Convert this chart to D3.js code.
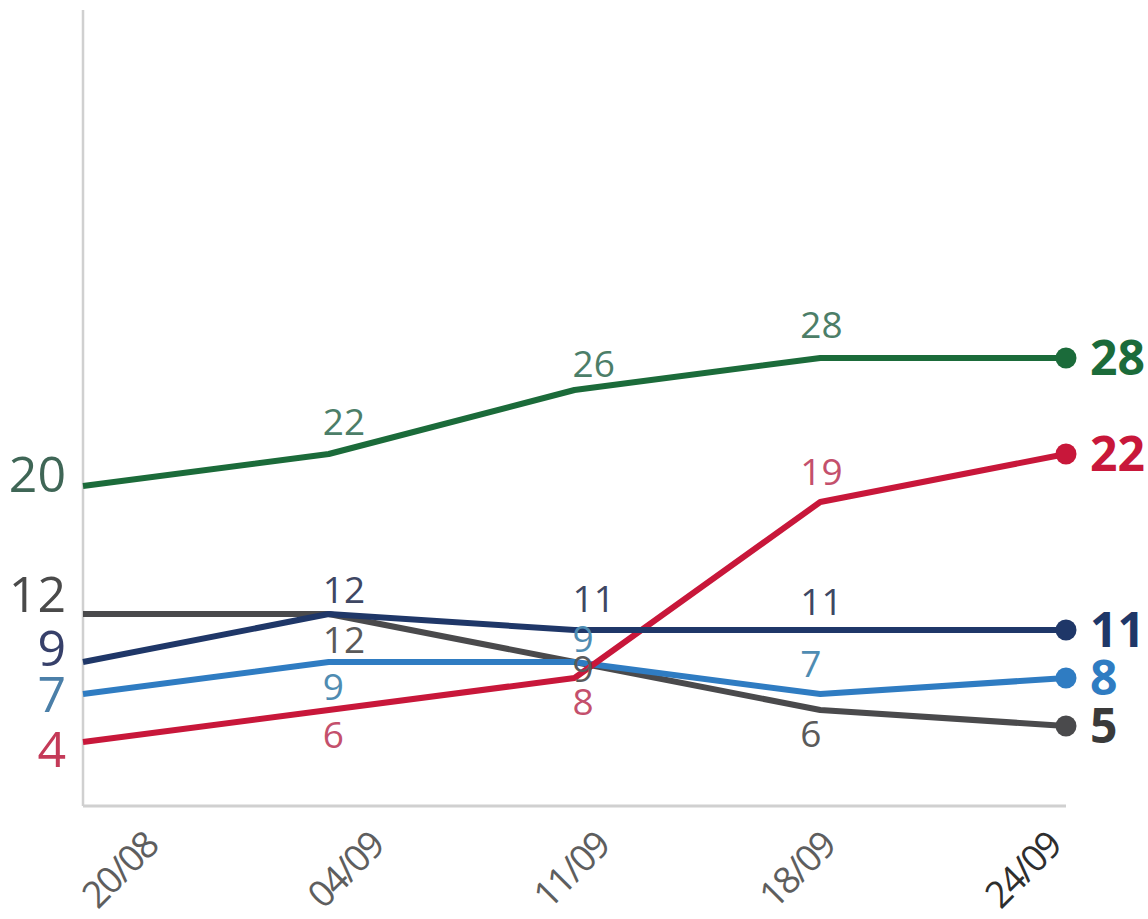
<!DOCTYPE html>
<html>
<head>
<meta charset="utf-8">
<script src="https://cdn.jsdelivr.net/npm/d3@7"></script>
<style>
  html, body { margin: 0; padding: 0; background: #fff; }
  svg { display: block; font-family: "Open Sans", "Noto Sans", sans-serif; }
</style>
</head>
<body>
<svg id="chart" width="1148" height="919"></svg>
<script>
// Poll dates (x categories)
const dates = ["20/08", "04/09", "11/09", "18/09", "24/09"];

// Series values, one array per line
const greenValues = [20, 22, 26, 28, 28];
const redValues   = [4, 6, 8, 19, 22];
const navyValues  = [9, 12, 11, 11, 11];
const blueValues  = [7, 9, 9, 7, 8];
const greyValues  = [12, 12, 9, 6, 5];

// Y axis domain
const yDomain = [0, 50];

// Styling per series
const seriesStyle = {
  green: { line: "#1b6b3a", mid: "#4c7e68", start: "#3f6656" },
  red:   { line: "#c8173a", mid: "#c4506c", start: "#c43a58" },
  navy:  { line: "#1f3768", mid: "#3e4763", start: "#37406a" },
  blue:  { line: "#2f7cc2", mid: "#4f8cb2", start: "#4b7fa8" },
  grey:  { line: "#4a4a4c", mid: "#5a5a5a", start: "#4a4a4a" }
};

const series = [
  { key: "green", values: greenValues },
  { key: "grey",  values: greyValues },
  { key: "blue",  values: blueValues },
  { key: "red",   values: redValues },
  { key: "navy",  values: navyValues }
];

// Label layout: vertical offsets for the value labels at the inner dates
const midLabelDy = {
  green: [-19, -13, -20],
  red:   [38, 37, -17],
  navy:  [-11, -18, -15],
  blue:  [38, -10, -17],
  grey:  [39, 20, 37]
};
const midLabelDx = [0, -6, -2, -20, 0];
// Vertical nudges for the first-date labels so they don't collide
const startLabelDy = { green: 6, grey: -2, navy: 4, blue: 18, red: 25 };

const svg = d3.select("#chart");

const x = d3.scalePoint().domain(dates).range([83, 1066]);
const y = d3.scaleLinear().domain(yDomain).range([806, 6]);
// Rotated date labels sit on their own evenly spaced band
const xLabel = d3.scalePoint().domain(dates).range([160, 1063]);

// Axes lines
svg.append("line")
  .attr("x1", x(dates[0])).attr("x2", x(dates[0]))
  .attr("y1", y(yDomain[1]) + 4).attr("y2", y(0))
  .attr("stroke", "#d0d0d0").attr("stroke-width", 2.5);
svg.append("line")
  .attr("x1", x(dates[0])).attr("x2", x(dates[dates.length - 1]))
  .attr("y1", y(0)).attr("y2", y(0))
  .attr("stroke", "#d0d0d0").attr("stroke-width", 3);

// Date labels
svg.append("g").selectAll("text")
  .data(dates)
  .join("text")
  .attr("transform", d => `translate(${xLabel(d)},848) rotate(-45)`)
  .attr("text-anchor", "end")
  .attr("font-size", 37)
  .attr("letter-spacing", -2)
  .attr("fill", (d, i) => i === dates.length - 1 ? "#2e2e2e" : "#5e5e5e")
  .text(d => d);

const line = d3.line()
  .x((d, i) => x(dates[i]))
  .y(d => y(d));

// Lines
svg.append("g").selectAll("path")
  .data(series)
  .join("path")
  .attr("d", s => line(s.values))
  .attr("fill", "none")
  .attr("stroke", s => seriesStyle[s.key].line)
  .attr("stroke-width", 6)
  .attr("stroke-linejoin", "round")
  .attr("stroke-linecap", "butt");

// End dots
const last = dates.length - 1;
svg.append("g").selectAll("circle")
  .data(series)
  .join("circle")
  .attr("cx", x(dates[last]))
  .attr("cy", s => y(s.values[last]))
  .attr("r", 10.5)
  .attr("fill", s => seriesStyle[s.key].line);

// End value labels
svg.append("g").selectAll("text")
  .data(series)
  .join("text")
  .attr("x", x(dates[last]) + 24)
  .attr("y", s => y(s.values[last]) + 17)
  .attr("font-size", 48)
  .attr("font-weight", 700)
  .attr("fill", s => s.key === "grey" ? "#3a3a3a" : seriesStyle[s.key].line)
  .text(s => s.values[last]);

// Start value labels
svg.append("g").selectAll("text")
  .data(series)
  .join("text")
  .attr("x", x(dates[0]) - 17)
  .attr("y", s => y(s.values[0]) + startLabelDy[s.key])
  .attr("text-anchor", "end")
  .attr("font-size", 50)
  .attr("fill", s => seriesStyle[s.key].start)
  .text(s => s.values[0]);

// Inner value labels
const midLabels = [];
series.forEach(s => {
  for (let i = 1; i < last; i++) {
    midLabels.push({ key: s.key, i, v: s.values[i] });
  }
});
svg.append("g").selectAll("text")
  .data(midLabels)
  .join("text")
  .attr("x", d => x(dates[d.i]) + midLabelDx[d.i])
  .attr("y", d => y(d.v) + midLabelDy[d.key][d.i - 1])
  .attr("font-size", 37)
  .attr("fill", d => seriesStyle[d.key].mid)
  .text(d => d.v);
</script>
</body>
</html>
